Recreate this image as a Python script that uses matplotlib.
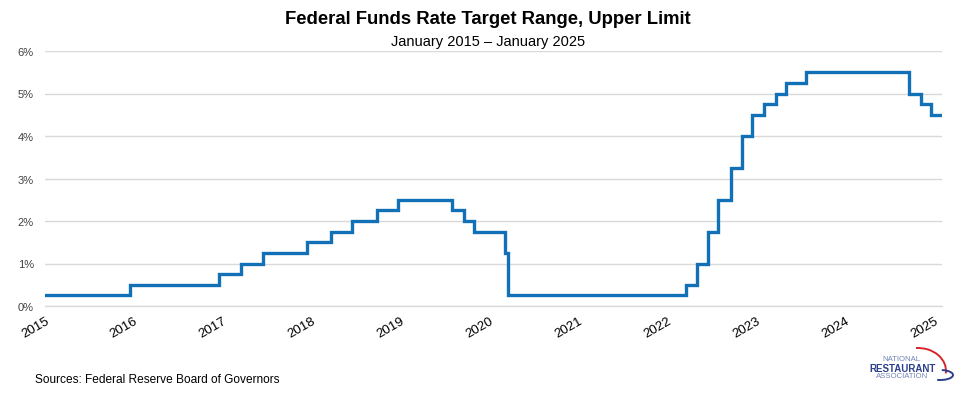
import matplotlib
matplotlib.use("Agg")
import matplotlib.pyplot as plt
from matplotlib.patches import Arc
import datetime as dt

plt.rcParams['font.family'] = ['Liberation Sans', 'DejaVu Sans']

# Data: change dates and new upper-limit rate (%)
change_dates = ["2015-01-01", "2015-12-17", "2016-12-15", "2017-03-16", "2017-06-15",
                "2017-12-14", "2018-03-22", "2018-06-14", "2018-09-27", "2018-12-20",
                "2019-08-01", "2019-09-19", "2019-10-31", "2020-03-04", "2020-03-16",
                "2022-03-17", "2022-05-05", "2022-06-16", "2022-07-28", "2022-09-22",
                "2022-11-03", "2022-12-15", "2023-02-02", "2023-03-23", "2023-05-04",
                "2023-07-27", "2024-09-19", "2024-11-08", "2024-12-19", "2025-01-31"]
upper_rate = [0.25, 0.50, 0.75, 1.00, 1.25,
              1.50, 1.75, 2.00, 2.25, 2.50,
              2.25, 2.00, 1.75, 1.25, 0.25,
              0.50, 1.00, 1.75, 2.50, 3.25,
              4.00, 4.50, 4.75, 5.00, 5.25,
              5.50, 5.00, 4.75, 4.50, 4.50]
year_ticks = list(range(2015, 2026))
y_ticks = [0, 1, 2, 3, 4, 5, 6]

dates = [dt.datetime.strptime(d, "%Y-%m-%d") for d in change_dates]

fig = plt.figure(figsize=(9.76, 4.06), dpi=100)
ax = fig.add_axes([45/976, 1-307/406, (942-45)/976, (307-52)/406])

ax.plot(dates, upper_rate, drawstyle='steps-post', color='#1170B6', lw=2.4,
        solid_joinstyle='miter', zorder=3)

ax.set_ylim(0, 6)
ax.set_yticks(y_ticks)
ax.set_yticklabels([f"{v}%" for v in y_ticks], fontsize=8, color='#404040')
ax.set_xlim(dt.datetime(2015, 1, 1), dt.datetime(2025, 2, 3))
ax.set_xticks([dt.datetime(y, 1, 1) for y in year_ticks])
ax.set_xticklabels([str(y) for y in year_ticks], rotation=30, ha='right',
                   rotation_mode='anchor', fontsize=9.5)
ax.tick_params(axis='both', length=0)
ax.tick_params(axis='x', pad=6)
ax.tick_params(axis='y', pad=8)
ax.grid(axis='y', color='#D9D9D9', lw=1)
ax.axhline(0, color='#D9D9D9', lw=1, clip_on=False, zorder=1)
ax.set_axisbelow(True)
for s in ax.spines.values():
    s.set_visible(False)

fig.text(0.5, 1-20/406, "Federal Funds Rate Target Range, Upper Limit", ha='center', va='center',
         fontsize=13.3, fontweight='bold')
fig.text(0.5, 1-42/406, "January 2015 \u2013 January 2025", ha='center', va='center',
         fontsize=10.5)
fig.text(35/976, 1-380/406, "Sources: Federal Reserve Board of Governors", ha='left', va='center',
         fontsize=8.6)

# Logo approximation (coordinates in figure pixels)
lax = fig.add_axes([0, 0, 1, 1], zorder=5)
lax.set_xlim(0, 976); lax.set_ylim(0, 406); lax.axis('off')
lax.text(901, 406-360, "NATIONAL", ha='center', va='center', fontsize=5.6, color='#7384B5')
lax.text(903, 406-369, "RESTAURANT", ha='center', va='center', fontsize=7,
         fontweight='bold', color='#2B3F8C')
lax.text(902, 406-377, "ASSOCIATION", ha='center', va='center', fontsize=5.6, color='#7384B5')
lax.add_patch(Arc((918, 406-372), 56, 46, theta1=-5, theta2=95, color='#D7262E', lw=1.4))
lax.add_patch(Arc((940, 406-376), 26, 10, theta1=-120, theta2=70, color='#2B3F8C', lw=1.4))

fig.savefig("out.png", dpi=100)
